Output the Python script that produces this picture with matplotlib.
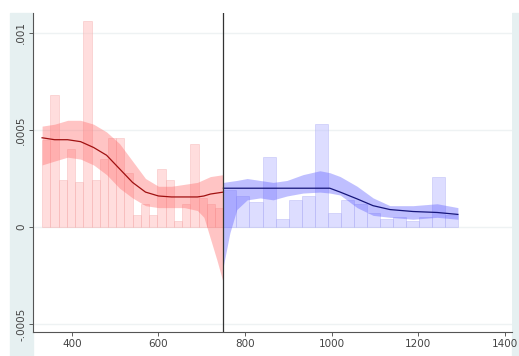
import numpy as np
import matplotlib
matplotlib.use("Agg")
import matplotlib.pyplot as plt
from matplotlib.patches import Rectangle

# Histogram (density) below the cutoff
left_edges = np.linspace(331, 750, 23)
left_density = [4.5e-4, 6.8e-4, 2.4e-4, 4.0e-4, 2.3e-4, 10.6e-4, 2.4e-4, 3.5e-4,
                4.6e-4, 4.6e-4, 2.8e-4, 0.6e-4, 1.2e-4, 0.6e-4, 3.0e-4, 2.4e-4,
                0.3e-4, 1.2e-4, 4.3e-4, 1.5e-4, 1.2e-4, 1.0e-4]

# Histogram (density) above the cutoff
right_edges = np.linspace(750, 1293, 19)
right_density = [1.9e-4, 1.6e-4, 1.3e-4, 3.6e-4, 0.4e-4, 1.4e-4, 1.6e-4, 5.3e-4,
                 0.7e-4, 1.4e-4, 1.2e-4, 0.7e-4, 0.4e-4, 0.5e-4, 0.3e-4, 0.5e-4,
                 2.6e-4, 0.6e-4]

# Local polynomial density fit with confidence band, left side
left_x = [331, 360, 390, 420, 450, 480, 510, 540, 570, 600, 630, 660, 690,
          705, 720, 735, 750]
left_fit = [4.6e-4, 4.5e-4, 4.5e-4, 4.4e-4, 4.1e-4, 3.7e-4, 3.0e-4, 2.3e-4,
            1.8e-4, 1.6e-4, 1.55e-4, 1.55e-4, 1.55e-4, 1.6e-4, 1.7e-4,
            1.75e-4, 1.8e-4]
left_hi = [5.2e-4, 5.3e-4, 5.5e-4, 5.5e-4, 5.3e-4, 4.9e-4, 4.3e-4, 3.4e-4,
           2.5e-4, 2.1e-4, 2.1e-4, 2.2e-4, 2.3e-4, 2.45e-4, 2.6e-4, 2.65e-4,
           2.7e-4]
left_lo = [3.2e-4, 3.4e-4, 3.6e-4, 3.5e-4, 3.2e-4, 2.7e-4, 2.0e-4, 1.5e-4,
           1.1e-4, 1.0e-4, 1.0e-4, 1.0e-4, 0.85e-4, 0.5e-4, -0.6e-4,
           -1.7e-4, -2.9e-4]

# Local polynomial density fit with confidence band, right side
right_x = [750, 765, 781, 805, 835, 865, 897, 934, 973, 996, 1020, 1059, 1096,
           1135, 1188, 1244, 1292]
right_fit = [2.0e-4, 2.0e-4, 2.0e-4, 2.0e-4, 2.0e-4, 2.0e-4, 2.0e-4, 2.0e-4,
             2.0e-4, 2.0e-4, 1.8e-4, 1.45e-4, 1.1e-4, 0.9e-4, 0.8e-4,
             0.75e-4, 0.65e-4]
right_hi = [2.3e-4, 2.35e-4, 2.4e-4, 2.5e-4, 2.4e-4, 2.3e-4, 2.4e-4, 2.7e-4,
            2.9e-4, 2.8e-4, 2.6e-4, 2.1e-4, 1.5e-4, 1.1e-4, 1.1e-4, 1.2e-4,
            1.0e-4]
right_lo = [-2.0e-4, -0.3e-4, 0.9e-4, 1.4e-4, 1.5e-4, 1.4e-4, 1.6e-4, 1.75e-4,
            1.8e-4, 1.75e-4, 1.65e-4, 1.0e-4, 0.6e-4, 0.5e-4, 0.4e-4, 0.5e-4,
            0.4e-4]

cutoff = 750
x_ticks = [400, 600, 800, 1000, 1200, 1400]
y_ticks = [-0.0005, 0, 0.0005, 0.001]
y_tick_labels = ["-.0005", "0", ".0005", ".001"]

W, H = 519, 356
fig = plt.figure(figsize=(W / 100, H / 100), dpi=100)
fig.patch.set_facecolor("white")

# light graph-region strips on both sides (behind the axes)
bg = "#e6f0f1"
fig.patches.append(Rectangle((10 / W, 0), 23 / W, (H - 13) / H,
                             transform=fig.transFigure, color=bg, zorder=-10))
fig.patches.append(Rectangle((512 / W, 0), 7 / W, (H - 13) / H,
                             transform=fig.transFigure, color=bg, zorder=-10))

ax = fig.add_axes([33 / W, (H - 332) / H, (512 - 33) / W, (332 - 13) / H])
ax.set_facecolor("white")

for yv in y_ticks:
    ax.axhline(yv, color="#eef2f3", lw=1.0, zorder=0)

# histograms
ax.bar(left_edges[:-1], left_density, width=np.diff(left_edges), align="edge",
       color=(1.0, 0.74, 0.74, 0.5), edgecolor=(0.95, 0.62, 0.62, 0.45),
       linewidth=0.5, zorder=1)
ax.bar(right_edges[:-1], right_density, width=np.diff(right_edges), align="edge",
       color=(0.74, 0.74, 1.0, 0.5), edgecolor=(0.62, 0.62, 0.95, 0.45),
       linewidth=0.5, zorder=1)

# confidence bands
ax.fill_between(left_x, left_lo, left_hi, color=(1.0, 0.4, 0.4), alpha=0.38,
                lw=0, zorder=2)
ax.fill_between(right_x, right_lo, right_hi, color=(0.35, 0.35, 1.0), alpha=0.38,
                lw=0, zorder=2)

# fitted densities
ax.plot(left_x, left_fit, color="#a01010", lw=0.9, zorder=3)
ax.plot(right_x, right_fit, color="#15157a", lw=0.9, zorder=3)

ax.axvline(cutoff, color="#333333", lw=0.9, zorder=4)

ax.set_xlim(310, 1417)
ax.set_ylim(-0.000541, 0.001103)

ax.set_xticks(x_ticks)
ax.set_xticklabels([str(v) for v in x_ticks])
ax.set_yticks(y_ticks)
ax.set_yticklabels(y_tick_labels, rotation=90, va="center")

for s in ["top", "right"]:
    ax.spines[s].set_visible(False)
for s in ["left", "bottom"]:
    ax.spines[s].set_color("#555555")
    ax.spines[s].set_linewidth(0.8)

ax.tick_params(axis="both", labelsize=7.5, colors="#444444", length=3,
               width=0.6, pad=2)

fig.savefig("out.png", dpi=100, facecolor=fig.get_facecolor())
